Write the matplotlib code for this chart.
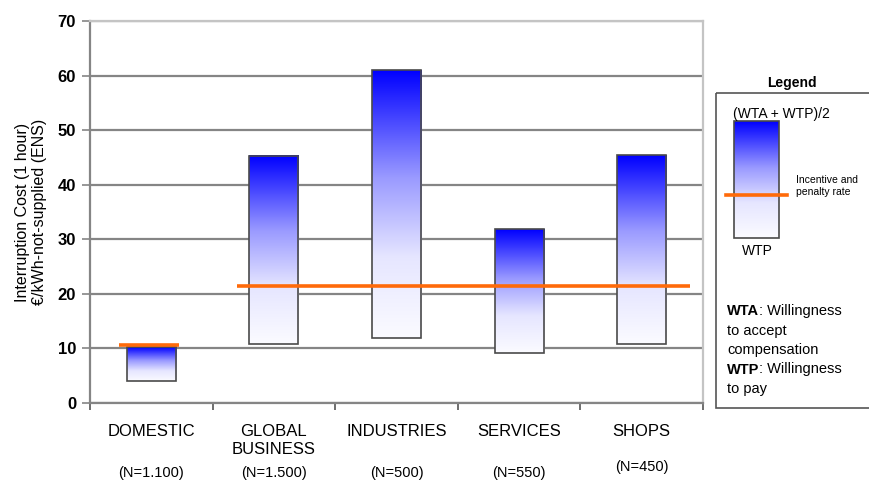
"""Interruption cost per customer category, WTP / (WTA + WTP)/2 ranges."""

import matplotlib
matplotlib.use("Agg")
import matplotlib.pyplot as plt
import numpy as np
from matplotlib.colors import LinearSegmentedColormap
from matplotlib.patches import Rectangle

plt.rcParams["font.family"] = ["Liberation Sans", "DejaVu Sans"]

# data
categories = ["DOMESTIC", "GLOBAL\nBUSINESS", "INDUSTRIES", "SERVICES", "SHOPS"]
sample_sizes = ["(N=1.100)", "(N=1.500)", "(N=500)", "(N=550)", "(N=450)"]
wtp = [4.1, 10.8, 11.9, 9.2, 10.8]
wta_wtp_mean = [10.3, 45.3, 61.0, 31.9, 45.4]
domestic_rate = 10.6
business_rate = 21.5

BLUE_FADE = LinearSegmentedColormap.from_list(
    "fade", [(0.0, "#fbfbff"), (0.3, "#e6e6ff"), (0.6, "#9a9aff"), (1.0, "#0000ff")])
ORANGE = "#ff6a0a"
GRID = "#858585"
gradient = np.linspace(0, 1, 256).reshape(-1, 1)

fig = plt.figure(figsize=(8.69, 4.82), dpi=100)
ax = fig.add_axes([90 / 869, 79 / 482, 613 / 869, 382 / 482])

x = np.arange(len(categories))
bar_width = 0.4

for xi, low, high in zip(x, wtp, wta_wtp_mean):
    ax.imshow(gradient, cmap=BLUE_FADE, origin="lower", aspect="auto",
              extent=(xi - bar_width / 2, xi + bar_width / 2, low, high), zorder=2)
    ax.add_patch(Rectangle((xi - bar_width / 2, low), bar_width, high - low,
                           fill=False, edgecolor="#4a4a4a", lw=1.2, zorder=3))

# incentive and penalty rates
ax.plot([x[0] - 0.26, x[0] + 0.23], [domestic_rate] * 2, color=ORANGE, lw=2.6,
        solid_capstyle="butt", zorder=4)
ax.plot([x[1] - 0.3, x[-1] + 0.39], [business_rate] * 2, color=ORANGE, lw=2.6,
        solid_capstyle="butt", zorder=4)

ax.set_xlim(-0.5, len(categories) - 0.5)
ax.set_ylim(0, 70)
ax.set_yticks(range(0, 71, 10))
ax.yaxis.grid(True, color=GRID, lw=1.6, zorder=0)
ax.set_axisbelow(True)
for label in ax.get_yticklabels():
    label.set_fontweight("bold")
ax.tick_params(axis="y", labelsize=12, length=6, width=1.2, color=GRID, pad=4)

ax.set_xticks(np.arange(-0.5, len(categories), 1.0))
ax.set_xticklabels([])
ax.tick_params(axis="x", length=5, width=1.2, color="#555555")

for side in ("top", "right"):
    ax.spines[side].set_color("#c4c4c4")
    ax.spines[side].set_linewidth(1.6)
for side in ("left", "bottom"):
    ax.spines[side].set_color(GRID)
    ax.spines[side].set_linewidth(1.6)

xtrans = ax.get_xaxis_transform()
for xi, name, n in zip(x, categories, sample_sizes):
    ax.text(xi, -0.055, name, transform=xtrans, ha="center", va="top",
            fontsize=12, linespacing=1.25)
    ax.text(xi, -0.165 if n != "(N=450)" else -0.15, n, transform=xtrans,
            ha="center", va="top", fontsize=10.5)

ax.set_ylabel("Interruption Cost (1 hour)\n€/kWh-not-supplied (ENS)",
              fontsize=11.5, labelpad=8, linespacing=1.15)

# legend panel drawn in figure pixel coordinates
leg = fig.add_axes([0, 0, 1, 1], zorder=5)
leg.set_xlim(0, 869)
leg.set_ylim(482, 0)
leg.axis("off")
leg.patch.set_alpha(0)

leg.add_patch(Rectangle((716, 93), 200, 315, fill=False, edgecolor="#555555", lw=1.2))
leg.text(792, 83, "Legend", ha="center", va="center", fontsize=10, fontweight="bold")
leg.imshow(gradient, cmap=BLUE_FADE, origin="upper", aspect="auto",
           extent=(734, 779, 121, 238), zorder=2)
leg.add_patch(Rectangle((734, 121), 45, 117, fill=False, edgecolor="#4a4a4a",
                        lw=1.2, zorder=3))
leg.plot([726, 787], [195, 195], color=ORANGE, lw=2.6, zorder=4)
leg.text(733, 114, "(WTA + WTP)/2", ha="left", va="center", fontsize=10)
leg.text(796, 186, "Incentive and\npenalty rate", ha="left", va="center",
         fontsize=7.5, linespacing=1.3)
leg.text(757, 251, "WTP", ha="center", va="center", fontsize=10)

notes = [("WTA", ": Willingness"), ("", "to accept"), ("", "compensation"),
         ("WTP", ": Willingness"), ("", "to pay")]
for i, (key, rest) in enumerate(notes):
    y = 311 + i * 19.5
    if key:
        t = leg.text(727, y, key, ha="left", va="center", fontsize=10.5,
                     fontweight="bold")
        leg.annotate(rest, xy=(1, 0.5), xycoords=t, ha="left", va="center",
                     fontsize=10.5)
    else:
        leg.text(727, y, rest, ha="left", va="center", fontsize=10.5)

fig.savefig("out.png", dpi=100)
